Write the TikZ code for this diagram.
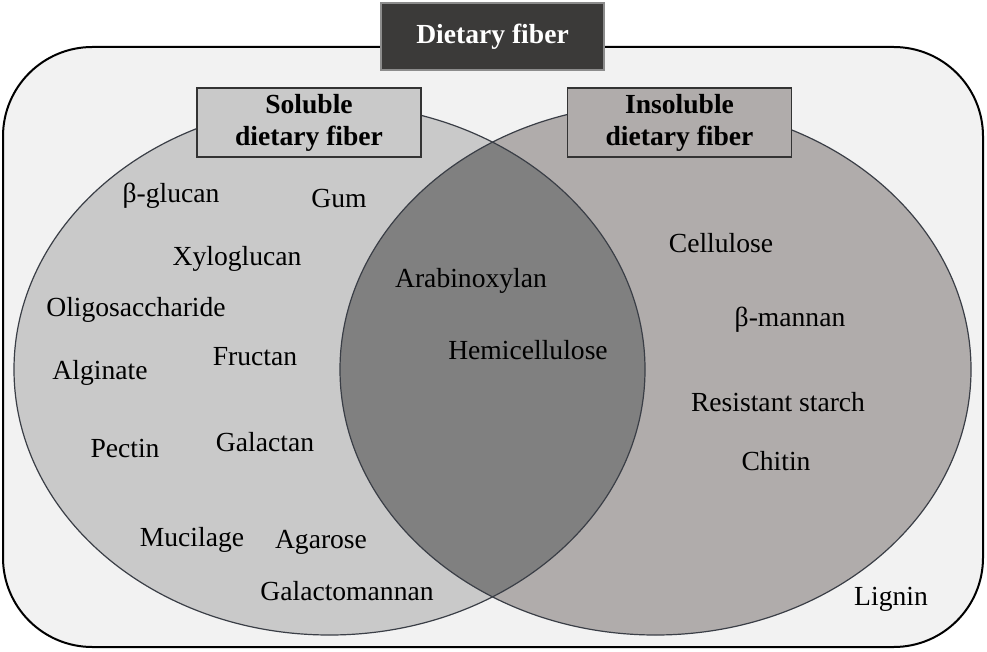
\documentclass[tikz,border=0pt]{standalone}
\usepackage{fontspec}
\setmainfont{Liberation Serif}
\definecolor{bgfill}{HTML}{F2F2F2}
\definecolor{solfill}{HTML}{C9C9C9}
\definecolor{insfill}{HTML}{B0ACAB}
\definecolor{lensfill}{HTML}{808080}
\definecolor{edgecol}{HTML}{3A3E46}
\definecolor{titlefill}{HTML}{3B3A39}
\begin{document}
\begin{tikzpicture}[x=0.75pt,y=-0.75pt,
  item/.style={anchor=base,inner sep=0pt,text=black,font=\fontsize{20.7}{24}\selectfont},
  labelbox/.style={draw=black!80,line width=0.8pt,minimum width=168pt,minimum height=51.75pt,
     align=center,inner sep=0pt,text=black,font=\fontsize{20.7}{24}\selectfont\bfseries},
  titlebox/.style={fill=titlefill,draw=black!45,line width=0.8pt,minimum width=167.25pt,
     minimum height=50.25pt,inner sep=0pt,text=white,font=\fontsize{20.7}{24}\selectfont\bfseries}]
\useasboundingbox (0,0) rectangle (987,652);
% outer frame
\draw[fill=bgfill,draw=black,line width=1.5pt,rounded corners=67pt] (3,47) rectangle (983,647);
% circles
\fill[solfill] (329.5,369.5) ellipse [x radius=315.5, y radius=265.5];
\fill[insfill] (655.5,369.5) ellipse [x radius=315.5, y radius=265.5];
\begin{scope}
  \clip (329.5,369.5) ellipse [x radius=315.5, y radius=265.5];
  \fill[lensfill] (655.5,369.5) ellipse [x radius=315.5, y radius=265.5];
\end{scope}
\draw[edgecol,line width=0.9pt] (329.5,369.5) ellipse [x radius=315.5, y radius=265.5];
\draw[edgecol,line width=0.9pt] (655.5,369.5) ellipse [x radius=315.5, y radius=265.5];
% boxes
\node[titlebox] (title) at (492.5,36.5) {Dietary fiber};
\node[labelbox,fill=solfill] (sol) at (309,122.5) {Soluble\\dietary fiber};
\node[labelbox,fill=insfill] (ins) at (679.5,122.5) {Insoluble\\dietary fiber};
% soluble items
\node[item] (bglucan) at (171,203) {β-glucan};
\node[item] (gum) at (339,208) {Gum};
\node[item] (xylo) at (237,265) {Xyloglucan};
\node[item] (oligo) at (136,316) {Oligosaccharide};
\node[item] (algin) at (100,379) {Alginate};
\node[item] (fruct) at (255,365) {Fructan};
\node[item] (pectin) at (125,457) {Pectin};
\node[item] (galac) at (265,451) {Galactan};
\node[item] (mucil) at (192,546) {Mucilage};
\node[item] (agar) at (321,548) {Agarose};
\node[item] (galman) at (347,600) {Galactomannan};
% shared
\node[item] (arabx) at (471,287) {Arabinoxylan};
\node[item] (hemi) at (528,359) {Hemicellulose};
% insoluble items
\node[item] (cell) at (721,252) {Cellulose};
\node[item] (bman) at (790,326) {β-mannan};
\node[item] (rstar) at (778,411) {Resistant starch};
\node[item] (chit) at (776,470) {Chitin};
\node[item] (lign) at (891,605) {Lignin};
\end{tikzpicture}
\end{document}
